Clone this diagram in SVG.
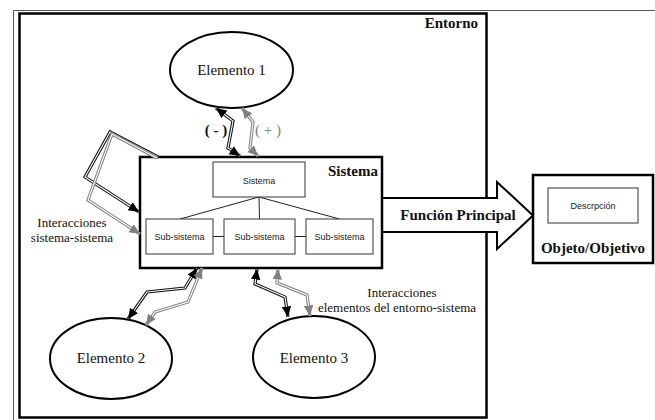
<svg xmlns="http://www.w3.org/2000/svg" width="655" height="420" viewBox="0 0 655 420">
<style>
.frame{fill:none;stroke:#555;stroke-width:1}
.thick{fill:#fff;stroke:#000;stroke-width:2.5}
.thin{fill:#fff;stroke:#333;stroke-width:1}
.ell{fill:#fff;stroke:#000;stroke-width:2}
.serif{font-family:"Liberation Serif","Times New Roman",serif;fill:#111}
.b{font-weight:bold}
.sans{font-family:"Liberation Sans",Arial,sans-serif;font-size:9px;fill:#222}
.tree{fill:none;stroke:#222;stroke-width:1}
.ok{fill:none;stroke:#111;stroke-width:3.2;stroke-linejoin:miter}
.og{fill:none;stroke:#808080;stroke-width:3.2;stroke-linejoin:miter}
.in{fill:none;stroke:#fff;stroke-width:1.1;stroke-linejoin:miter}
.mk{fill:none;stroke:none;marker-end:url(#ak)}
.mk2{fill:none;stroke:none;marker-start:url(#ak);marker-end:url(#ak)}
.mg2{fill:none;stroke:none;marker-start:url(#ag);marker-end:url(#ag)}
.mg{fill:none;stroke:none;marker-end:url(#ag)}
</style>
<defs>
<marker id="ak" markerUnits="userSpaceOnUse" markerWidth="11" markerHeight="10" refX="10.5" refY="4.75" orient="auto-start-reverse"><path d="M0,0 L10.5,4.75 L0,9.5 z" fill="#000"/></marker>
<marker id="ag" markerUnits="userSpaceOnUse" markerWidth="11" markerHeight="10" refX="10.5" refY="4.75" orient="auto-start-reverse"><path d="M0,0 L10.5,4.75 L0,9.5 z" fill="#808080"/></marker>
<path id="p1k" d="M216,108 L233,121 L228,148 L240,156"/>
<path id="p1g" d="M242,108 L253,122 L250,148 L258,156"/>
<path id="plk" d="M158,157 L110,132 L85,177 L139,212"/>
<path id="plg" d="M157,158 L112,134 L88,200 L140,234"/>
<path id="p2k" d="M128,319 L147,292 L185,288 L197,268"/>
<path id="p2g" d="M202,268 L188,302 L155,312 L146,325"/>
<path id="p3k" d="M257,269 L255,284 L285,297 L288,317"/>
<path id="p3g" d="M278,269 L277,283 L307,295 L310,316"/>
</defs>
<rect width="655" height="420" fill="#fff"/>
<path class="frame" d="M13.5,420 V10.5 H655"/>
<g id="entorno">
<rect class="thick" x="19.5" y="13.5" width="467" height="404"/>
<text class="serif b" x="478" y="28" font-size="15" text-anchor="end">Entorno</text>
</g>
<g id="funcion-principal">
<polygon points="382,198 497,198 497,182 533,215.5 497,249 497,232 382,232" fill="#fff" stroke="#000" stroke-width="2"/>
<text class="serif b" x="458" y="220" font-size="15" text-anchor="middle">Función Principal</text>
</g>
<g id="sistema">
<rect class="thick" x="140" y="157" width="242" height="111"/>
<text class="serif b" x="378" y="176" font-size="15" text-anchor="end">Sistema</text>
<path class="tree" d="M259,197 L180,219 M259,197 L259.5,219 M259,197 L339.5,219 M213,236.5 H224 M295,236.5 H306"/>
</g>
<g id="sistema-box">
<rect class="thin" x="213" y="162" width="92" height="35"/>
<text class="sans" x="259" y="184" text-anchor="middle">Sistema</text>
</g>
<g id="subsistema-1">
<rect class="thin" x="146" y="219" width="67" height="35"/>
<text class="sans" x="179.5" y="240" text-anchor="middle">Sub-sistema</text>
</g>
<g id="subsistema-2">
<rect class="thin" x="224" y="219" width="71" height="35"/>
<text class="sans" x="259.5" y="240" text-anchor="middle">Sub-sistema</text>
</g>
<g id="subsistema-3">
<rect class="thin" x="306" y="219" width="67" height="35"/>
<text class="sans" x="339.5" y="240" text-anchor="middle">Sub-sistema</text>
</g>
<g id="objeto">
<rect class="thick" x="533" y="175" width="120" height="88"/>
<rect class="thin" x="548" y="188" width="90" height="35"/>
<text class="sans" x="593" y="209" text-anchor="middle" font-size="9.5">Descrpción</text>
<text class="serif b" x="593" y="253" font-size="15" text-anchor="middle">Objeto/Objetivo</text>
</g>
<g id="elemento-1">
<ellipse class="ell" cx="231.5" cy="70" rx="61.5" ry="38"/>
<text class="serif" x="231.5" y="75" font-size="15" text-anchor="middle">Elemento 1</text>
</g>
<g id="elemento-2">
<ellipse class="ell" cx="111" cy="358.5" rx="61" ry="40.5"/>
<text class="serif" x="111" y="363" font-size="15" text-anchor="middle">Elemento 2</text>
</g>
<g id="elemento-3">
<ellipse class="ell" cx="314" cy="357" rx="61" ry="41"/>
<text class="serif" x="314" y="363" font-size="15" text-anchor="middle">Elemento 3</text>
</g>
<g id="connectors">
<use href="#p1k" class="ok"/><use href="#p1k" class="in"/><use href="#p1k" class="mk2"/>
<use href="#p1g" class="og"/><use href="#p1g" class="in"/><use href="#p1g" class="mg2"/>
<use href="#plk" class="ok"/><use href="#plk" class="in"/><use href="#plk" class="mk"/>
<use href="#plg" class="og"/><use href="#plg" class="in"/><use href="#plg" class="mg"/>
<use href="#p2k" class="ok"/><use href="#p2k" class="in"/><use href="#p2k" class="mk2"/>
<use href="#p2g" class="og"/><use href="#p2g" class="in"/><use href="#p2g" class="mg2"/>
<use href="#p3k" class="ok"/><use href="#p3k" class="in"/><use href="#p3k" class="mk2"/>
<use href="#p3g" class="og"/><use href="#p3g" class="in"/><use href="#p3g" class="mg2"/>
</g>
<g id="labels">
<text class="serif b" x="216" y="135" font-size="15" text-anchor="middle">( - )</text>
<text class="serif" x="268" y="135" font-size="15" text-anchor="middle" fill="#808080" style="fill:#808080">( + )</text>
<text class="serif" x="72" y="227" font-size="13" text-anchor="middle">Interacciones</text>
<text class="serif" x="72" y="242" font-size="13" text-anchor="middle">sistema-sistema</text>
<text class="serif" x="402" y="297" font-size="13" text-anchor="middle">Interacciones</text>
<text class="serif" x="397" y="312" font-size="13" text-anchor="middle">elementos del entorno-sistema</text>
</g>
</svg>
